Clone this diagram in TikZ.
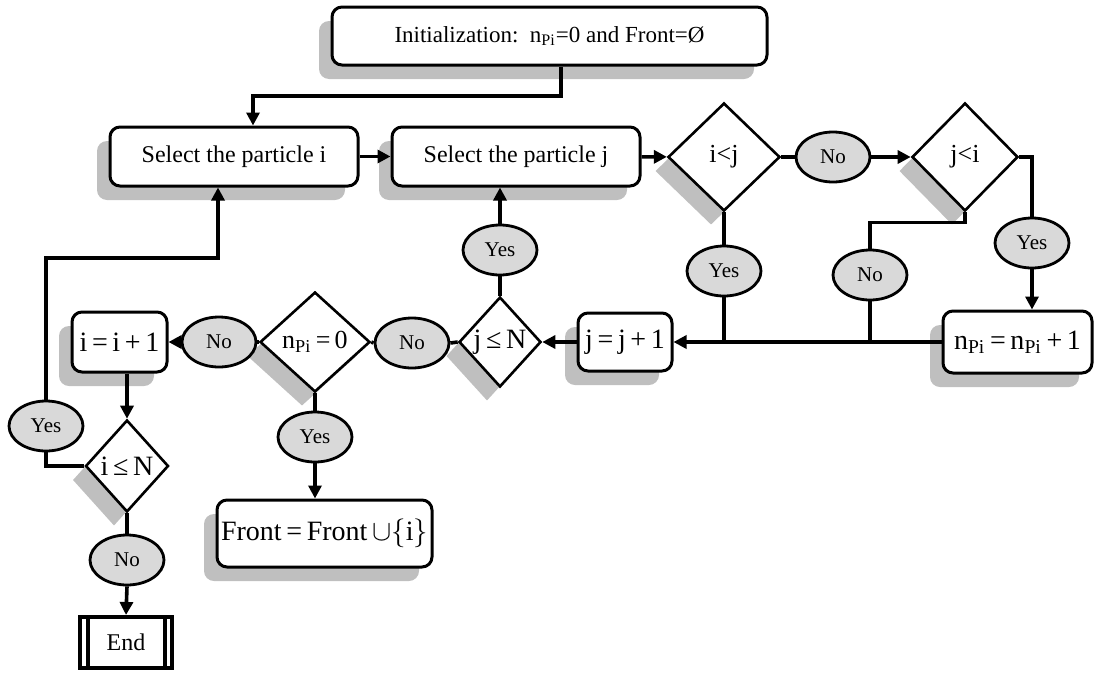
\documentclass[tikz,border=0pt]{standalone}
\usepackage{fontspec}
\setmainfont{Liberation Serif}
\usepackage{tikz}
\usetikzlibrary{shapes.geometric, shadows, arrows.meta}
\newcommand{\npisub}{n\textsubscript{Pi}}
\tikzset{
  shd/.style={drop shadow={shadow xshift=-6.5pt, shadow yshift=-7pt, fill=black!25, opacity=1}},
  procbox/.style={draw, line width=1.5pt, rounded corners=5pt, fill=white, shd, inner sep=2pt, align=center},
  condbox/.style={diamond, draw, line width=1.3pt, fill=white, shd, inner sep=0pt, font=\fontsize{13}{15}\selectfont},
  answer/.style={ellipse, draw, line width=1.4pt, fill=black!15, minimum width=37pt, minimum height=25pt, inner sep=0pt, font=\fontsize{10.5}{12}\selectfont},
  wire/.style={line width=1.8pt},
  arw/.style={wire, -{Triangle[length=6.5pt,width=6.5pt]}},
  mathtxt/.style={font=\fontsize{14}{16}\selectfont}
}
\begin{document}
\begin{tikzpicture}[x=0.5pt, y=-0.5pt]
    \useasboundingbox (0,0) rectangle (1097,675);

    % Process blocks
    \node[procbox, minimum width=217.5pt, minimum height=29pt, font=\fontsize{11.5}{13}\selectfont] (init) at (549.5,36) {Initialization:\ \ \npisub=0 and Front=Ø};
    \node[procbox, minimum width=124pt, minimum height=29.5pt, font=\fontsize{12}{14}\selectfont] (seli) at (234,156.5) {Select the particle i};
    \node[procbox, minimum width=124pt, minimum height=29.5pt, font=\fontsize{12}{14}\selectfont] (selj) at (516,156.5) {Select the particle j};
    \node[procbox, mathtxt, minimum width=74.5pt, minimum height=31pt] (npi) at (1017.5,342) {\npisub\,=\,\npisub\,+\,1};
    \node[procbox, mathtxt, minimum width=47pt, minimum height=29pt] (jinc) at (625,342) {j\,=\,j\,+\,1};
    \node[procbox, mathtxt, minimum width=47.5pt, minimum height=30pt] (iinc) at (119.5,342) {i\,=\,i\,+\,1};
    \node[procbox, mathtxt, minimum width=107.5pt, minimum height=33.5pt] (front) at (324.5,533.5) {Front\,=\,Front\,$\cup\bigl\{$i$\bigr\}$};

    % End block
    \node[draw, line width=2pt, minimum width=46pt, minimum height=25.5pt, font=\fontsize{12}{14}\selectfont] (end) at (126,642.5) {End};
    \draw[line width=2pt] ([xshift=5pt]end.north west) -- ([xshift=5pt]end.south west);
    \draw[line width=2pt] ([xshift=-4.5pt]end.north east) -- ([xshift=-4.5pt]end.south east);

    % Decisions
    \node[condbox, minimum width=56pt, minimum height=54pt] (dij) at (724,157) {i<j};
    \node[condbox, minimum width=53pt, minimum height=54pt] (dji) at (965,157) {j<i};
    \node[condbox, minimum width=41pt, minimum height=45pt, font=\fontsize{14}{16}\selectfont] (djn) at (500,342) {j\,≤\,N};
    \node[condbox, minimum width=55pt, minimum height=50pt] (dnpi) at (315,342) {\npisub\,=\,0};
    \node[condbox, minimum width=41.5pt, minimum height=46pt, font=\fontsize{14}{16}\selectfont] (din) at (127,466) {i\,≤\,N};

    % Yes / No labels
    \node[answer] (no1) at (833,157) {No};
    \node[answer] (yes1) at (724,271) {Yes};
    \node[answer] (no2) at (870,275) {No};
    \node[answer] (yes2) at (1032,243) {Yes};
    \node[answer] (yes3) at (500,250) {Yes};
    \node[answer] (no3) at (412,343) {No};
    \node[answer] (no4) at (219,342) {No};
    \node[answer] (yes4) at (315,437) {Yes};
    \node[answer] (yes5) at (46,426) {Yes};
    \node[answer] (no5) at (127,560) {No};

    % Bends
    \coordinate (k1) at (253,96);
    \coordinate (k2) at (218,258);

    % Top row
    \draw[arw] ([xshift=5.75pt]init.south) |- (k1) -- (k1 |- seli.north);
    \draw[arw] (seli) -- (selj);
    \draw[arw] (selj) -- (dij);
    \draw[wire] (dij.east) -- (no1);
    \draw[arw] (no1) -- (dji);
    \draw[wire] (dji.east) -| (yes2.north);
    \draw[arw] (yes2.south) -- (yes2.south |- npi.north);

    % Answers down to the j loop
    \draw[wire] (dij.south) -- (yes1.north);
    \draw[wire] (yes1.south) -- (yes1.south |- npi.west);
    \draw[wire] (dji.south) -- ++(0,10) -| (no2.north);
    \draw[wire] (no2.south) -- (no2.south |- npi.west);
    \draw[arw] (npi.west) -- (jinc.east);
    \draw[arw] (jinc.west) -- (djn.east);

    % Back to select j
    \draw[wire] (djn.north) -- (yes3.south);
    \draw[arw] (yes3.north) -- (yes3.north |- selj.south);

    % Bottom row
    \draw[wire] (djn.west) -- (no3.east);
    \draw[wire] (no3.west) -- (dnpi.east);
    \draw[wire] (dnpi.west) -- (no4.east);
    \draw[arw] (no4.west) -- (iinc.east);
    \draw[wire] (dnpi.south) -- (yes4.north);
    \draw[arw] (yes4.south) -- (yes4.south |- front.north);
    \draw[arw] (din.north |- iinc.south) -- (din.north);

    % Outer loop and end
    \draw[wire] (din.west) -| (yes5.south);
    \draw[arw] (yes5.north) |- (k2) -- (k2 |- seli.south);
    \draw[wire] (din.south) -- (no5.north);
    \draw[arw] (no5.south) -- (end.north);
\end{tikzpicture}
\end{document}
